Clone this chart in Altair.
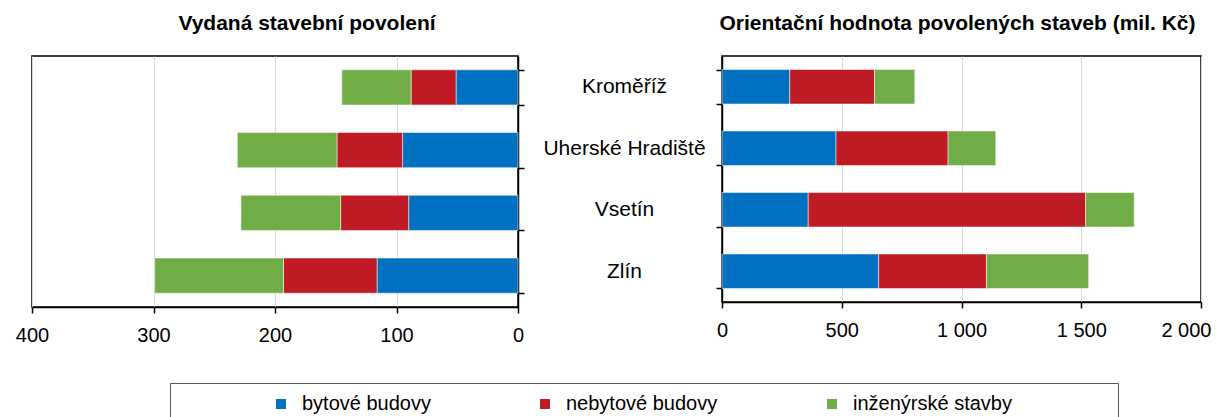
import altair as alt
import pandas as pd

categories = ["Kroměříž", "Uherské Hradiště", "Vsetín", "Zlín"]
series = ["bytové budovy", "nebytové budovy", "inženýrské stavby"]
series_colors = ["#0070C0", "#BE1B24", "#70AD47"]

# Vydaná stavební povolení (počet)
permits_bytove = [51, 95, 90, 116]
permits_nebytove = [37, 54, 56, 77]
permits_inzenyrske = [57, 82, 82, 106]

# Orientační hodnota povolených staveb (mil. Kč)
value_bytove = [283, 476, 360, 654]
value_nebytove = [354, 468, 1158, 450]
value_inzenyrske = [168, 199, 203, 427]

left_ticks = [0, 100, 200, 300, 400]
right_ticks = [0, 500, 1000, 1500, 2000]


def long_table(lists):
    rows = []
    for si, (s, vals) in enumerate(zip(series, lists)):
        for c, v in zip(categories, vals):
            rows.append({"kraj": c, "druh": s, "poradi": si, "hodnota": v})
    return pd.DataFrame(rows)


df_left = long_table([permits_bytove, permits_nebytove, permits_inzenyrske])
df_right = long_table([value_bytove, value_nebytove, value_inzenyrske])
df_legend = pd.DataFrame({"druh": series})

FONT = "Liberation Sans"
color_scale = alt.Scale(domain=series, range=series_colors)
band = alt.Scale(paddingInner=0.44, paddingOuter=0.22)

x_axis_common = dict(
    title=None, grid=True, gridColor="#d9d9d9", gridWidth=1,
    labelFontSize=20, labelColor="black", labelFont=FONT, labelFlush=False,
    labelPadding=12, tickSize=6, tickColor="black", tickWidth=1.5,
    domainColor="black", domainWidth=1.5,
)

left = alt.Chart(df_left).mark_bar(stroke="white", strokeWidth=0.5).encode(
    x=alt.X("hodnota:Q", stack="zero",
            scale=alt.Scale(domain=[0, 400], reverse=True, nice=False),
            axis=alt.Axis(values=left_ticks, **x_axis_common)),
    y=alt.Y("kraj:N", sort=categories, scale=band,
            axis=alt.Axis(orient="right", labels=False, title=None, grid=False,
                          tickBand="extent", tickSize=6, tickColor="black", tickWidth=1.5,
                          domainColor="black", domainWidth=1.5)),
    color=alt.Color("druh:N", scale=color_scale, legend=None),
    order=alt.Order("poradi:Q"),
).properties(
    width=486, height=251,
    title=alt.TitleParams("Vydaná stavební povolení", font=FONT, fontSize=21,
                          fontWeight="bold", color="black", dx=32, offset=22),
    view=alt.ViewBackground(stroke="black", strokeWidth=1.5),
)

last_label = "datum.value == 2000"
right = alt.Chart(df_right).mark_bar(stroke="white", strokeWidth=0.5).encode(
    x=alt.X("hodnota:Q", stack="zero",
            scale=alt.Scale(domain=[0, 2000], nice=False),
            axis=alt.Axis(values=right_ticks,
                          labelExpr="replace(format(datum.value, ','), ',', ' ')",
                          labelAlign=alt.condition(last_label, alt.value("right"), alt.value("center")),
                          labelOffset=alt.condition(last_label, alt.value(10), alt.value(0)),
                          **x_axis_common)),
    y=alt.Y("kraj:N", sort=categories, scale=band,
            axis=alt.Axis(orient="left", title=None, grid=False,
                          labelFontSize=21, labelFont=FONT, labelColor="black",
                          labelAlign="center", labelPadding=92, labelLimit=400,
                          tickBand="extent", tickSize=6, tickColor="black", tickWidth=1.5,
                          domainColor="black", domainWidth=1.5)),
    color=alt.Color("druh:N", scale=color_scale, legend=None),
    order=alt.Order("poradi:Q"),
).properties(
    width=479, height=246,
    title=alt.TitleParams("Orientační hodnota povolených staveb (mil. Kč)", font=FONT,
                          fontSize=21, fontWeight="bold", color="black", offset=11, dx=-4),
    view=alt.ViewBackground(stroke="black", strokeWidth=1.5),
)

spacer = alt.Chart(df_legend).mark_text(opacity=0).encode(
    text=alt.value("")
).properties(width=137, height=40, view=alt.ViewBackground(strokeOpacity=0))

box = alt.Chart(df_legend).mark_square(opacity=0).encode(
    color=alt.Color("druh:N", scale=color_scale,
                    legend=alt.Legend(orient="none", legendX=101, legendY=11,
                                      direction="horizontal", columns=3, title=None,
                                      labelFontSize=20, labelFont=FONT, labelColor="black",
                                      labelLimit=400, symbolType="square", symbolSize=100,
                                      symbolOpacity=1, symbolStrokeWidth=0,
                                      columnPadding=104, labelOffset=11, padding=0)),
).properties(
    width=948, height=40,
    view=alt.ViewBackground(stroke="#595959", strokeWidth=1),
)

legend_row = alt.hconcat(spacer, box, spacing=0).resolve_legend(color="independent")

chart = alt.vconcat(
    alt.hconcat(left, right, spacing=16),
    legend_row,
    spacing=36,
).resolve_legend(color="independent").properties(
    padding={"left": 6, "top": 4, "right": 0, "bottom": 0}
).configure(font=FONT)

chart.save("out.html", embed_options={"renderer": "svg", "actions": False})
